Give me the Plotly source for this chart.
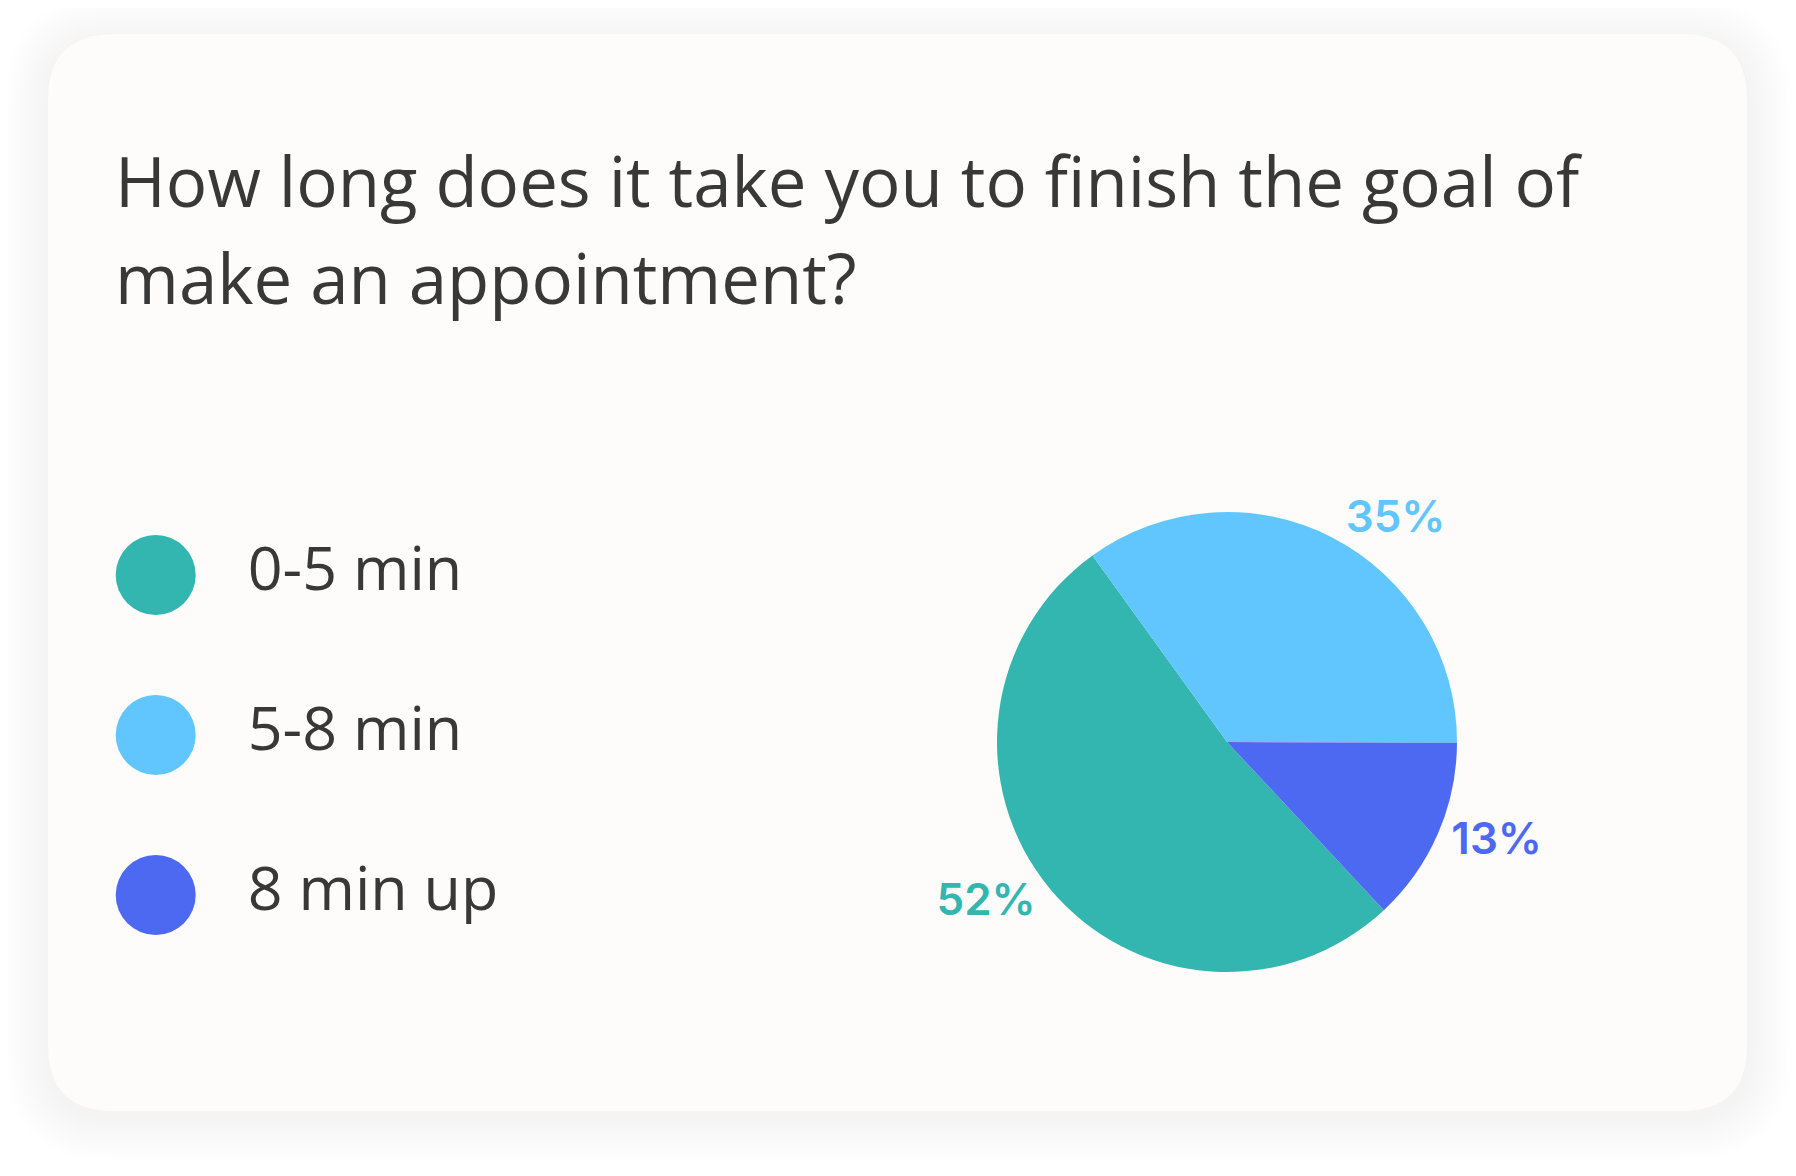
import plotly.graph_objects as go

# ---- data ----
categories = ["0-5 min", "5-8 min", "8 min up"]
percent_values = [52, 35, 13]
colors = ["#33B5B0", "#62C6FE", "#4E69F1"]
title_lines = ["How long does it take you to finish the goal of",
               "make an appointment?"]

W, H = 1796, 1176
OFF = 8  # page body margin


def px_x(p):
    return (p - OFF) / W


def px_y(p):
    return 1 - (p - OFF) / H


def rrect(l, t, r, b, rad):
    x0, x1 = px_x(l), px_x(r)
    y0, y1 = px_y(b), px_y(t)
    rx, ry = rad / W, rad / H
    return (f"M {x0+rx},{y0} L {x1-rx},{y0} Q {x1},{y0} {x1},{y0+ry} "
            f"L {x1},{y1-ry} Q {x1},{y1} {x1-rx},{y1} L {x0+rx},{y1} "
            f"Q {x0},{y1} {x0},{y1-ry} L {x0},{y0+ry} Q {x0},{y0} {x0+rx},{y0} Z")


shapes = []
# soft shadow
for d in range(44, 0, -4):
    shapes.append(dict(type="path", xref="paper", yref="paper", layer="below",
                       path=rrect(48 - d, 34 - d + 6, 1747 + d, 1111 + d + 6, 66 + d),
                       fillcolor="rgba(0,0,0,0.004)", line=dict(width=0)))
# card
shapes.append(dict(type="path", xref="paper", yref="paper", layer="below",
                   path=rrect(48, 34, 1747, 1111, 66),
                   fillcolor="#FDFCFA", line=dict(width=0)))

fig = go.Figure()

# pie
fig.add_trace(go.Pie(
    labels=categories,
    values=percent_values,
    marker=dict(colors=colors, line=dict(width=0)),
    sort=False,
    direction="clockwise",
    rotation=137,
    texttemplate="%{value}%",
    textposition="outside",
    textfont=dict(family="Inter", size=44, color=colors, weight=600),
    outsidetextfont=dict(family="Inter", size=44, color=colors, weight=600),
    domain=dict(x=[px_x(1227 - 230), px_x(1227 + 230)],
                y=[px_y(742 + 230), px_y(742 - 230)]),
    showlegend=False,
    hoverinfo="label+percent",
    automargin=False,
))

# custom legend: circles
fig.add_trace(go.Scatter(
    x=[0] * len(categories), y=categories, mode="markers",
    marker=dict(size=80, color=colors, line=dict(width=0)),
    showlegend=False, hoverinfo="skip",
))
# custom legend: labels
fig.add_trace(go.Scatter(
    x=[1] * len(categories), y=categories, mode="text",
    text=categories, textposition="middle right",
    textfont=dict(family="Open Sans", size=61, color="#383838"),
    showlegend=False, hoverinfo="skip",
))

unit_x = 92.0
dom_x1 = 0.42
range_x0 = -(155.7 - OFF) / unit_x
range_x1 = range_x0 + dom_x1 * W / unit_x
unit_y = 160.0
top_val = -(575.0 - OFF) / unit_y
bottom_val = top_val + H / unit_y

annotations = []
for line, cap_mid in zip(title_lines, [180, 276.7]):
    annotations.append(dict(
        text=line, xref="paper", yref="paper", x=px_x(113), y=px_y(cap_mid),
        xanchor="left", yanchor="middle", showarrow=False,
        font=dict(family="Open Sans", size=69, color="#383838")))

fig.update_layout(
    width=W, height=H,
    margin=dict(l=0, r=0, t=0, b=0),
    paper_bgcolor="#FFFFFF",
    plot_bgcolor="rgba(0,0,0,0)",
    shapes=shapes,
    annotations=annotations,
    xaxis=dict(domain=[0, dom_x1], range=[range_x0, range_x1], visible=False,
               fixedrange=True),
    yaxis=dict(domain=[0, 1], type="category", categoryorder="array",
               categoryarray=categories,
               range=[bottom_val, top_val], visible=False, fixedrange=True),
)

fig.write_html("out.html")
